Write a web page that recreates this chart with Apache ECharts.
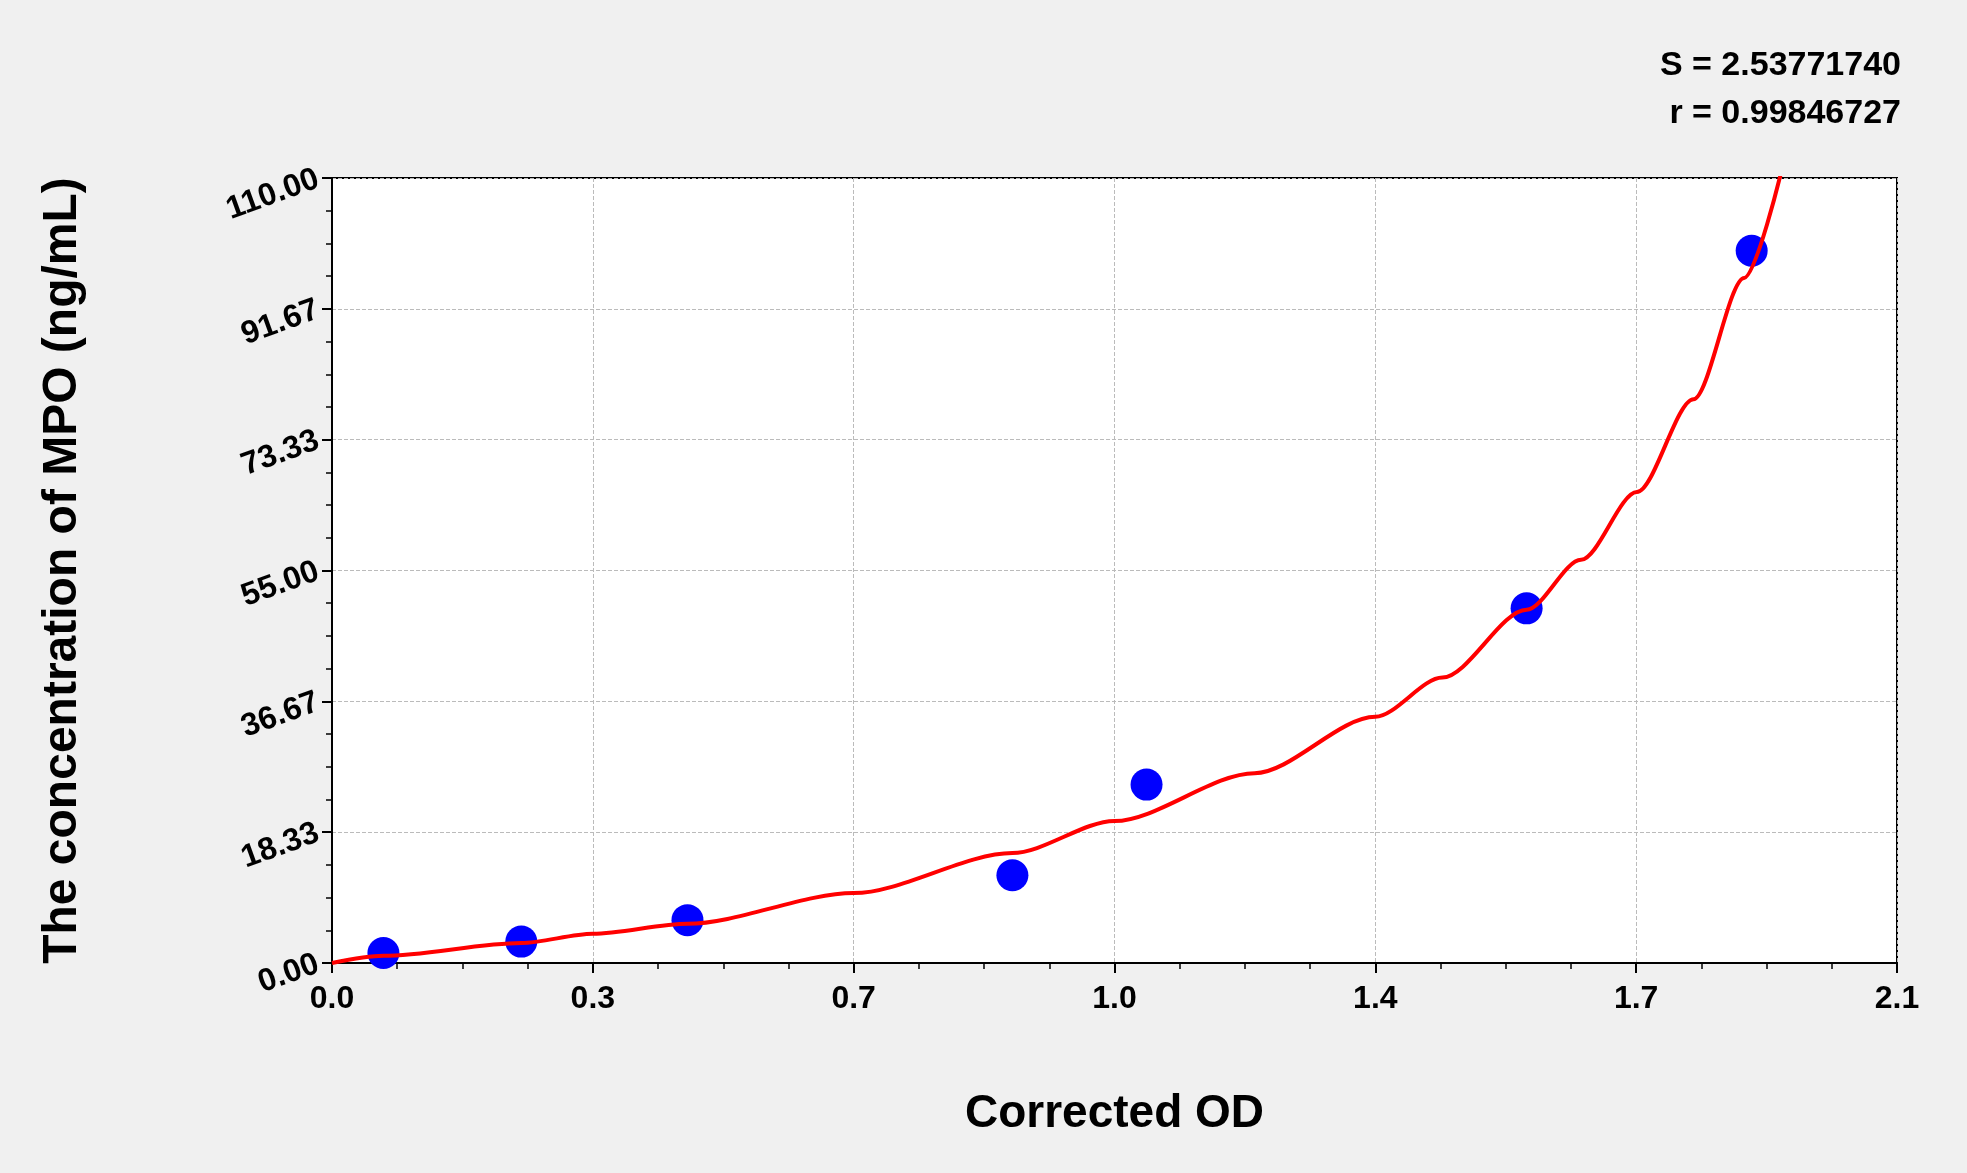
<!DOCTYPE html>
<html><head><meta charset="utf-8">
<script src="https://cdn.jsdelivr.net/npm/echarts@6/dist/echarts.min.js"></script>
<style>html,body{margin:0;background:#f0f0f0}#c{width:1967px;height:1173px}</style>
</head><body><div id="c"></div>
<script>
const xTickLabels = ['0.0','0.3','0.7','1.0','1.4','1.7','2.1'];
const yTickLabels = ['0.00','18.33','36.67','55.00','73.33','91.67','110.00'];
const pointsOD = [0.069,0.254,0.477,0.913,1.093,1.603,1.905];
const pointsConc = [1.4,3.0,6.0,12.3,25.0,49.7,99.8];
const curveOD = [0,0.069,0.254,0.35,0.477,0.7,0.913,1.05,1.238,1.4,1.49,1.603,1.676,1.751,1.827,1.895,1.945];
const curveConc = [0,1.0,2.8,4.1,5.5,9.8,15.4,19.9,26.6,34.5,40.0,49.5,56.5,66.0,79.0,96.0,111];
const stats = ['S = 2.53771740','r = 0.99846727'];

const chart = echarts.init(document.getElementById('c'));
const ax = {color:'#000',fontWeight:'bold',fontFamily:'Liberation Sans, Arial',fontSize:32};
chart.setOption({
  backgroundColor:'#f0f0f0',
  graphic:[{type:'text',right:66,top:42,style:{text:stats.join('\n'),fill:'#000',font:'bold 34px "Liberation Sans", Arial',textAlign:'right',lineHeight:48,letterSpacing:-2}}],
  grid:{left:332,right:70,top:178,bottom:210,show:true,backgroundColor:'#fff',borderColor:'#000',borderWidth:2},
  xAxis:{type:'value',min:0,max:2.1,interval:0.35,
    name:'Corrected OD',nameLocation:'middle',nameGap:128,
    nameTextStyle:{color:'#000',fontWeight:'bold',fontFamily:'Liberation Sans, Arial',fontSize:46,letterSpacing:-1},
    axisLine:{lineStyle:{color:'#000',width:2}},
    axisTick:{show:true,length:10,lineStyle:{color:'#000',width:2}},
    minorTick:{show:true,splitNumber:4,length:6,lineStyle:{color:'#000',width:1.5}},
    axisLabel:Object.assign({},ax,{margin:20,formatter:(v)=>xTickLabels[Math.round(v/0.35)]}),
    splitLine:{show:true,lineStyle:{color:'#bbb',type:'dashed',width:1}}},
  yAxis:{type:'value',min:0,max:110,interval:110/6,
    name:'The concentration of MPO (ng/mL)',nameLocation:'middle',nameGap:245,
    nameTextStyle:{color:'#000',fontWeight:'bold',fontFamily:'Liberation Sans, Arial',fontSize:48,letterSpacing:-1},
    axisLine:{show:true,lineStyle:{color:'#000',width:2}},
    axisTick:{show:true,length:10,lineStyle:{color:'#000',width:2}},
    minorTick:{show:true,splitNumber:4,length:6,lineStyle:{color:'#000',width:1.5}},
    axisLabel:Object.assign({},ax,{rotate:20,margin:14,formatter:(v)=>yTickLabels[Math.round(v/(110/6))]}),
    splitLine:{show:true,lineStyle:{color:'#bbb',type:'dashed',width:1}}},
  series:[
    {type:'line',data:curveOD.map((x,i)=>[x,curveConc[i]]),smooth:0.3,smoothMonotone:'x',showSymbol:false,clip:false,
     lineStyle:{color:'#ff0000',width:4},z:3},
    {type:'scatter',data:pointsOD.map((x,i)=>[x,pointsConc[i]]),symbolSize:32,
     itemStyle:{color:'#0000ff',opacity:1},z:2}
  ]
});
</script></body></html>
